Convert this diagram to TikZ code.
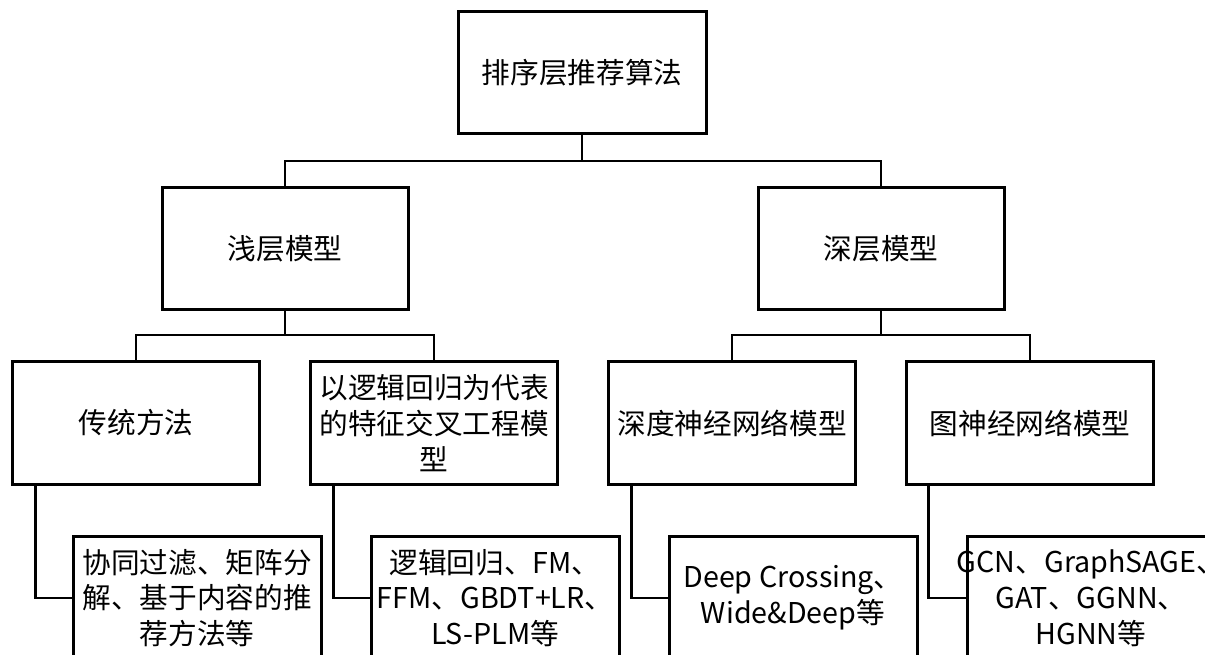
\documentclass[tikz,border=0pt]{standalone}
\usepackage{fontspec}
\newfontfamily\cjk{Noto Sans CJK SC}
\begin{document}
\begin{tikzpicture}[x=0.75pt,y=-0.75pt,
  box/.style={draw=black,line width=2.25pt,fill=white,inner sep=0pt,align=center,
    font=\cjk\fontsize{21.5}{26.8}\selectfont},
  wire/.style={draw=black,line width=2.1pt}]
\clip (0,0) rectangle (1205,655);
\fill[white] (0,0) rectangle (1205,655);
% level 1
\node[box,minimum width=186pt,minimum height=91pt] (top) at (582,72.5) {排序层推荐算法};
% level 2
\node[box,minimum width=184.5pt,minimum height=92pt] (sh) at (285,248.5) {浅层模型};
\node[box,minimum width=184.5pt,minimum height=92pt] (dp) at (881,248.5) {深层模型};
% level 3
\node[box,minimum width=185.5pt,minimum height=91.5pt] (ta) at (136,423) {传统方法};
\node[box,minimum width=185.5pt,minimum height=91.5pt] (tb) at (434,423) {以逻辑回归为代表\\的特征交叉工程模\\型};
\node[box,minimum width=185.5pt,minimum height=91.5pt] (tc) at (732,423) {深度神经网络模型};
\node[box,minimum width=185.5pt,minimum height=91.5pt] (td) at (1030,423) {图神经网络模型};
% level 4
\node[box,minimum width=186pt,minimum height=93pt] (fa) at (197,598) {协同过滤、矩阵分\\解、基于内容的推\\荐方法等};
\node[box,minimum width=186pt,minimum height=93pt] (fb) at (495,598) {逻辑回归、FM、\\FFM、GBDT+LR、\\LS-PLM等};
\node[box,minimum width=186pt,minimum height=93pt] (fc) at (793,598) {Deep Crossing、\\Wide\&Deep等};
\node[box,text width=186pt,minimum height=93pt] (fd) at (1091,598) {\makebox[186pt][c]{GCN、GraphSAGE、}\\GAT、GGNN、\\HGNN等};
% junctions
\coordinate (j1) at (582,161);
\coordinate (j2) at (285,335);
\coordinate (j3) at (881,335);
% connectors
\draw[wire] (top.south) -- (j1);
\draw[wire] (j1) -| (sh.north);
\draw[wire] (j1) -| (dp.north);
\draw[wire] (sh.south) -- (j2);
\draw[wire] (j2) -| (ta.north);
\draw[wire] (j2) -| (tb.north);
\draw[wire] (dp.south) -- (j3);
\draw[wire] (j3) -| (tc.north);
\draw[wire] (j3) -| (td.north);
\draw[wire] ([xshift=18.75pt]ta.south west) |- (fa.west);
\draw[wire] ([xshift=18.75pt]tb.south west) |- (fb.west);
\draw[wire] ([xshift=18.75pt]tc.south west) |- (fc.west);
\draw[wire] ([xshift=18pt]td.south west) |- (fd.west);
\end{tikzpicture}
\end{document}
